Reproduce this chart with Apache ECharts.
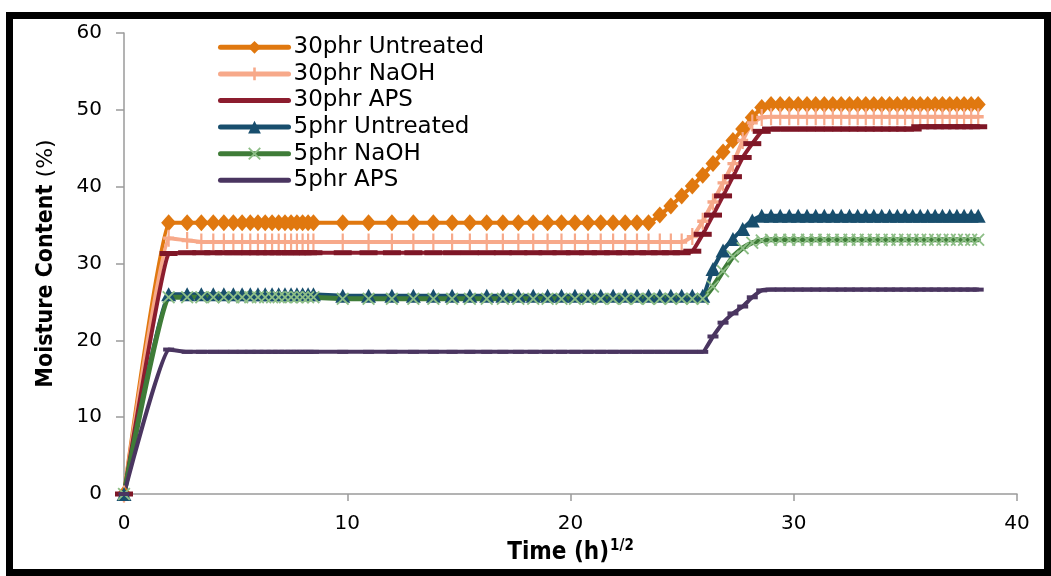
<!DOCTYPE html>
<html>
<head>
<meta charset="utf-8">
<script src="https://cdn.jsdelivr.net/npm/echarts@6/dist/echarts.min.js"></script>
<style>
html,body{margin:0;padding:0;background:#fff;}
#chart{width:1051px;height:576px;}
</style>
</head>
<body>
<div id="chart"></div>
<script>
// Sampling times in hours (x axis shows sqrt of time)
var hours = [0,4,8,12,16,20,24,28,32,36,40,44,48,52,56,60,64,68,72,
  96,120,144,168,192,216,240,264,288,312,336,360,384,408,432,456,480,504,528,552,576,
  600,624,648,672,696,720,744,768,792,816,840,864,888,912,936,960,984,1008,1032,1056,
  1080,1104,1128,1152,1176,1200,1224,1248,1272,1296,1320,1344,1368,1392,1416,1440,1464];

var seriesNames = ['30phr Untreated','30phr NaOH','30phr APS','5phr Untreated','5phr NaOH','5phr APS'];

var untreated30 = [
0,35.3,35.3,35.3,35.3,35.3,35.3,35.3,35.3,35.3,
35.3,35.3,35.3,35.3,35.3,35.3,35.3,35.3,35.3,35.3,
35.3,35.3,35.3,35.3,35.3,35.3,35.3,35.3,35.3,35.3,
35.3,35.3,35.3,35.3,35.3,35.3,35.3,35.3,35.3,36.3,
37.5,38.8,40.1,41.5,43.0,44.5,46.0,47.5,49.0,50.3,
50.7,50.7,50.7,50.7,50.7,50.7,50.7,50.7,50.7,50.7,
50.7,50.7,50.7,50.7,50.7,50.7,50.7,50.7,50.7,50.7,
50.7,50.7,50.7,50.7,50.7,50.7,50.7];

var naoh30 = [
0,33.3,33.0,32.8,32.8,32.8,32.8,32.8,32.8,32.8,
32.8,32.8,32.8,32.8,32.8,32.8,32.8,32.8,32.8,32.8,
32.8,32.8,32.8,32.8,32.8,32.8,32.8,32.8,32.8,32.8,
32.8,32.8,32.8,32.8,32.8,32.8,32.8,32.8,32.8,32.8,
32.8,32.8,33.5,35.5,38.0,40.5,43.0,46.0,48.3,49.0,
49.1,49.1,49.1,49.1,49.1,49.1,49.1,49.1,49.1,49.1,
49.1,49.1,49.1,49.1,49.1,49.1,49.1,49.1,49.1,49.1,
49.1,49.1,49.1,49.1,49.1,49.1,49.1];

var aps30 = [
0,31.3,31.4,31.4,31.4,31.4,31.4,31.4,31.4,31.4,
31.4,31.4,31.4,31.4,31.4,31.4,31.4,31.4,31.4,31.4,
31.4,31.4,31.4,31.4,31.4,31.4,31.4,31.4,31.4,31.4,
31.4,31.4,31.4,31.4,31.4,31.4,31.4,31.4,31.4,31.4,
31.4,31.4,31.6,33.8,36.3,38.8,41.3,43.8,45.6,47.2,
47.5,47.5,47.5,47.5,47.5,47.5,47.5,47.5,47.5,47.5,
47.5,47.5,47.5,47.5,47.5,47.5,47.5,47.5,47.8,47.8,
47.8,47.8,47.8,47.8,47.8,47.8,47.8];

var untreated5 = [
0,26.0,26.0,26.0,26.0,26.0,26.0,26.0,26.0,26.0,
26.0,26.0,26.0,26.0,26.0,26.0,26.0,26.0,26.0,25.8,
25.8,25.8,25.8,25.8,25.8,25.8,25.8,25.8,25.8,25.8,
25.8,25.8,25.8,25.8,25.8,25.8,25.8,25.8,25.8,25.8,
25.8,25.8,25.8,25.8,29.3,31.7,33.2,34.5,35.6,36.2,
36.2,36.2,36.2,36.2,36.2,36.2,36.2,36.2,36.2,36.2,
36.2,36.2,36.2,36.2,36.2,36.2,36.2,36.2,36.2,36.2,
36.2,36.2,36.2,36.2,36.2,36.2,36.2];

var naoh5 = [
0,25.6,25.6,25.6,25.6,25.6,25.6,25.6,25.6,25.6,
25.6,25.6,25.6,25.6,25.6,25.6,25.6,25.6,25.6,25.4,
25.4,25.4,25.4,25.4,25.4,25.4,25.4,25.4,25.4,25.4,
25.4,25.4,25.4,25.4,25.4,25.4,25.4,25.4,25.4,25.4,
25.4,25.4,25.4,25.4,27.0,29.0,30.9,32.0,32.7,33.0,
33.1,33.1,33.1,33.1,33.1,33.1,33.1,33.1,33.1,33.1,
33.1,33.1,33.1,33.1,33.1,33.1,33.1,33.1,33.1,33.1,
33.1,33.1,33.1,33.1,33.1,33.1,33.1];

var aps5 = [
0,18.8,18.5,18.5,18.5,18.5,18.5,18.5,18.5,18.5,
18.5,18.5,18.5,18.5,18.5,18.5,18.5,18.5,18.5,18.5,
18.5,18.5,18.5,18.5,18.5,18.5,18.5,18.5,18.5,18.5,
18.5,18.5,18.5,18.5,18.5,18.5,18.5,18.5,18.5,18.5,
18.5,18.5,18.5,18.5,20.5,22.3,23.5,24.4,25.6,26.5,
26.6,26.6,26.6,26.6,26.6,26.6,26.6,26.6,26.6,26.6,
26.6,26.6,26.6,26.6,26.6,26.6,26.6,26.6,26.6,26.6,
26.6,26.6,26.6,26.6,26.6,26.6,26.6];

var xTicks = [0,10,20,30,40];
var yTicks = [0,10,20,30,40,50,60];

function pairs(vals){
  return vals.map(function(v,i){ return [Math.sqrt(hours[i]), v]; });
}

var PLUS = 'path://M4,0 H6 V4 H10 V6 H6 V10 H4 V6 H0 V4 H4 Z';
var CROSS = 'path://M0,1 L1,0 L5,4 L9,0 L10,1 L6,5 L10,9 L9,10 L5,6 L1,10 L0,9 L4,5 Z';

var styles = [
  {line:'#E0780F', mark:'#E0780F', symbol:'diamond', size:[15,17], w:4},
  {line:'#F7A98A', mark:'#F7A98A', symbol:PLUS, size:[11,17], w:4},
  {line:'#8C1D2E', mark:'#7E1626', symbol:'rect', size:[18,5], w:4},
  {line:'#184E6D', mark:'#184E6D', symbol:'triangle', size:[15,14], w:4},
  {line:'#3F7C38', mark:'#8DBE86', symbol:CROSS, size:[13,13], w:5},
  {line:'#4A3560', mark:'#4A3560', symbol:'rect', size:[11,4], w:4}
];
var allVals = [untreated30, naoh30, aps30, untreated5, naoh5, aps5];

var series = allVals.map(function(vals, k){
  var s = styles[k];
  return {
    name: seriesNames[k],
    type: 'line',
    data: pairs(vals),
    smooth: 0.12,
    symbol: s.symbol,
    symbolSize: s.size,
    showAllSymbol: true,
    lineStyle: {color: s.line, width: s.w, cap: 'round', join: 'round'},
    itemStyle: {color: s.mark, borderWidth: 0},
    emphasis: {disabled: true},
    animation: false
  };
});

var legendData = seriesNames.map(function(n, k){
  if (k === 2 || k === 5) {
    return {name: n, itemStyle: {opacity: 0}};
  }
  return {name: n};
});

var chart = echarts.init(document.getElementById('chart'), null, {renderer:'canvas'});
chart.setOption({
  backgroundColor: '#ffffff',
  animation: false,
  textStyle: {fontFamily: 'DejaVu Sans'},
  grid: {left: 124, right: 34, top: 33, bottom: 82, containLabel: false},
  legend: {
    data: legendData,
    orient: 'vertical',
    left: 218,
    top: 34,
    padding: 0,
    itemWidth: 68,
    itemHeight: 16,
    itemGap: 0,
    lineStyle: {width: 5},
    textStyle: {fontSize: 23, lineHeight: 26.6, height: 26.6, color: '#000', fontFamily: 'DejaVu Sans'},
    selectedMode: false
  },
  xAxis: {
    type: 'value',
    min: xTicks[0], max: xTicks[xTicks.length-1], interval: 10,
    name: '{b|Time (h)}{s|1/2}',
    nameLocation: 'middle',
    nameGap: 43,
    nameTextStyle: {
      rich: {
        b: {fontFamily: 'DejaVu Sans Condensed', fontWeight: 'bold', fontSize: 24, color: '#000', verticalAlign: 'bottom', lineHeight: 26},
        s: {fontFamily: 'DejaVu Sans Condensed', fontWeight: 'bold', fontSize: 15, color: '#000', verticalAlign: 'top', padding: [0,0,10,1], lineHeight: 26}
      }
    },
    axisLine: {show: true, onZero: false, lineStyle: {color: '#9a9a9a', width: 1.5}},
    axisTick: {show: true, inside: false, length: 7, lineStyle: {color: '#9a9a9a', width: 1.5}},
    axisLabel: {fontSize: 20, color: '#000', margin: 20, fontFamily: 'DejaVu Sans'},
    splitLine: {show: false}
  },
  yAxis: {
    type: 'value',
    min: yTicks[0], max: yTicks[yTicks.length-1], interval: 10,
    name: '{b|Moisture Content }{r|(%)}',
    nameLocation: 'middle',
    nameRotate: 90,
    nameGap: 66,
    nameTextStyle: {
      rich: {
        b: {fontFamily: 'DejaVu Sans Condensed', fontWeight: 'bold', fontSize: 23, color: '#000'},
        r: {fontFamily: 'DejaVu Sans', fontSize: 22, color: '#000'}
      }
    },
    axisLine: {show: true, lineStyle: {color: '#9a9a9a', width: 1.5}},
    axisTick: {show: true, inside: false, length: 8, lineStyle: {color: '#9a9a9a', width: 1.5}},
    axisLabel: {fontSize: 20, color: '#000', margin: 22, fontFamily: 'DejaVu Sans'},
    splitLine: {show: false}
  },
  graphic: [{
    type: 'rect',
    shape: {x: 9.5, y: 15.5, width: 1038, height: 557},
    style: {fill: 'none', stroke: '#000', lineWidth: 7},
    silent: true,
    z: 100
  }],
  series: series
});
</script>
</body>
</html>
